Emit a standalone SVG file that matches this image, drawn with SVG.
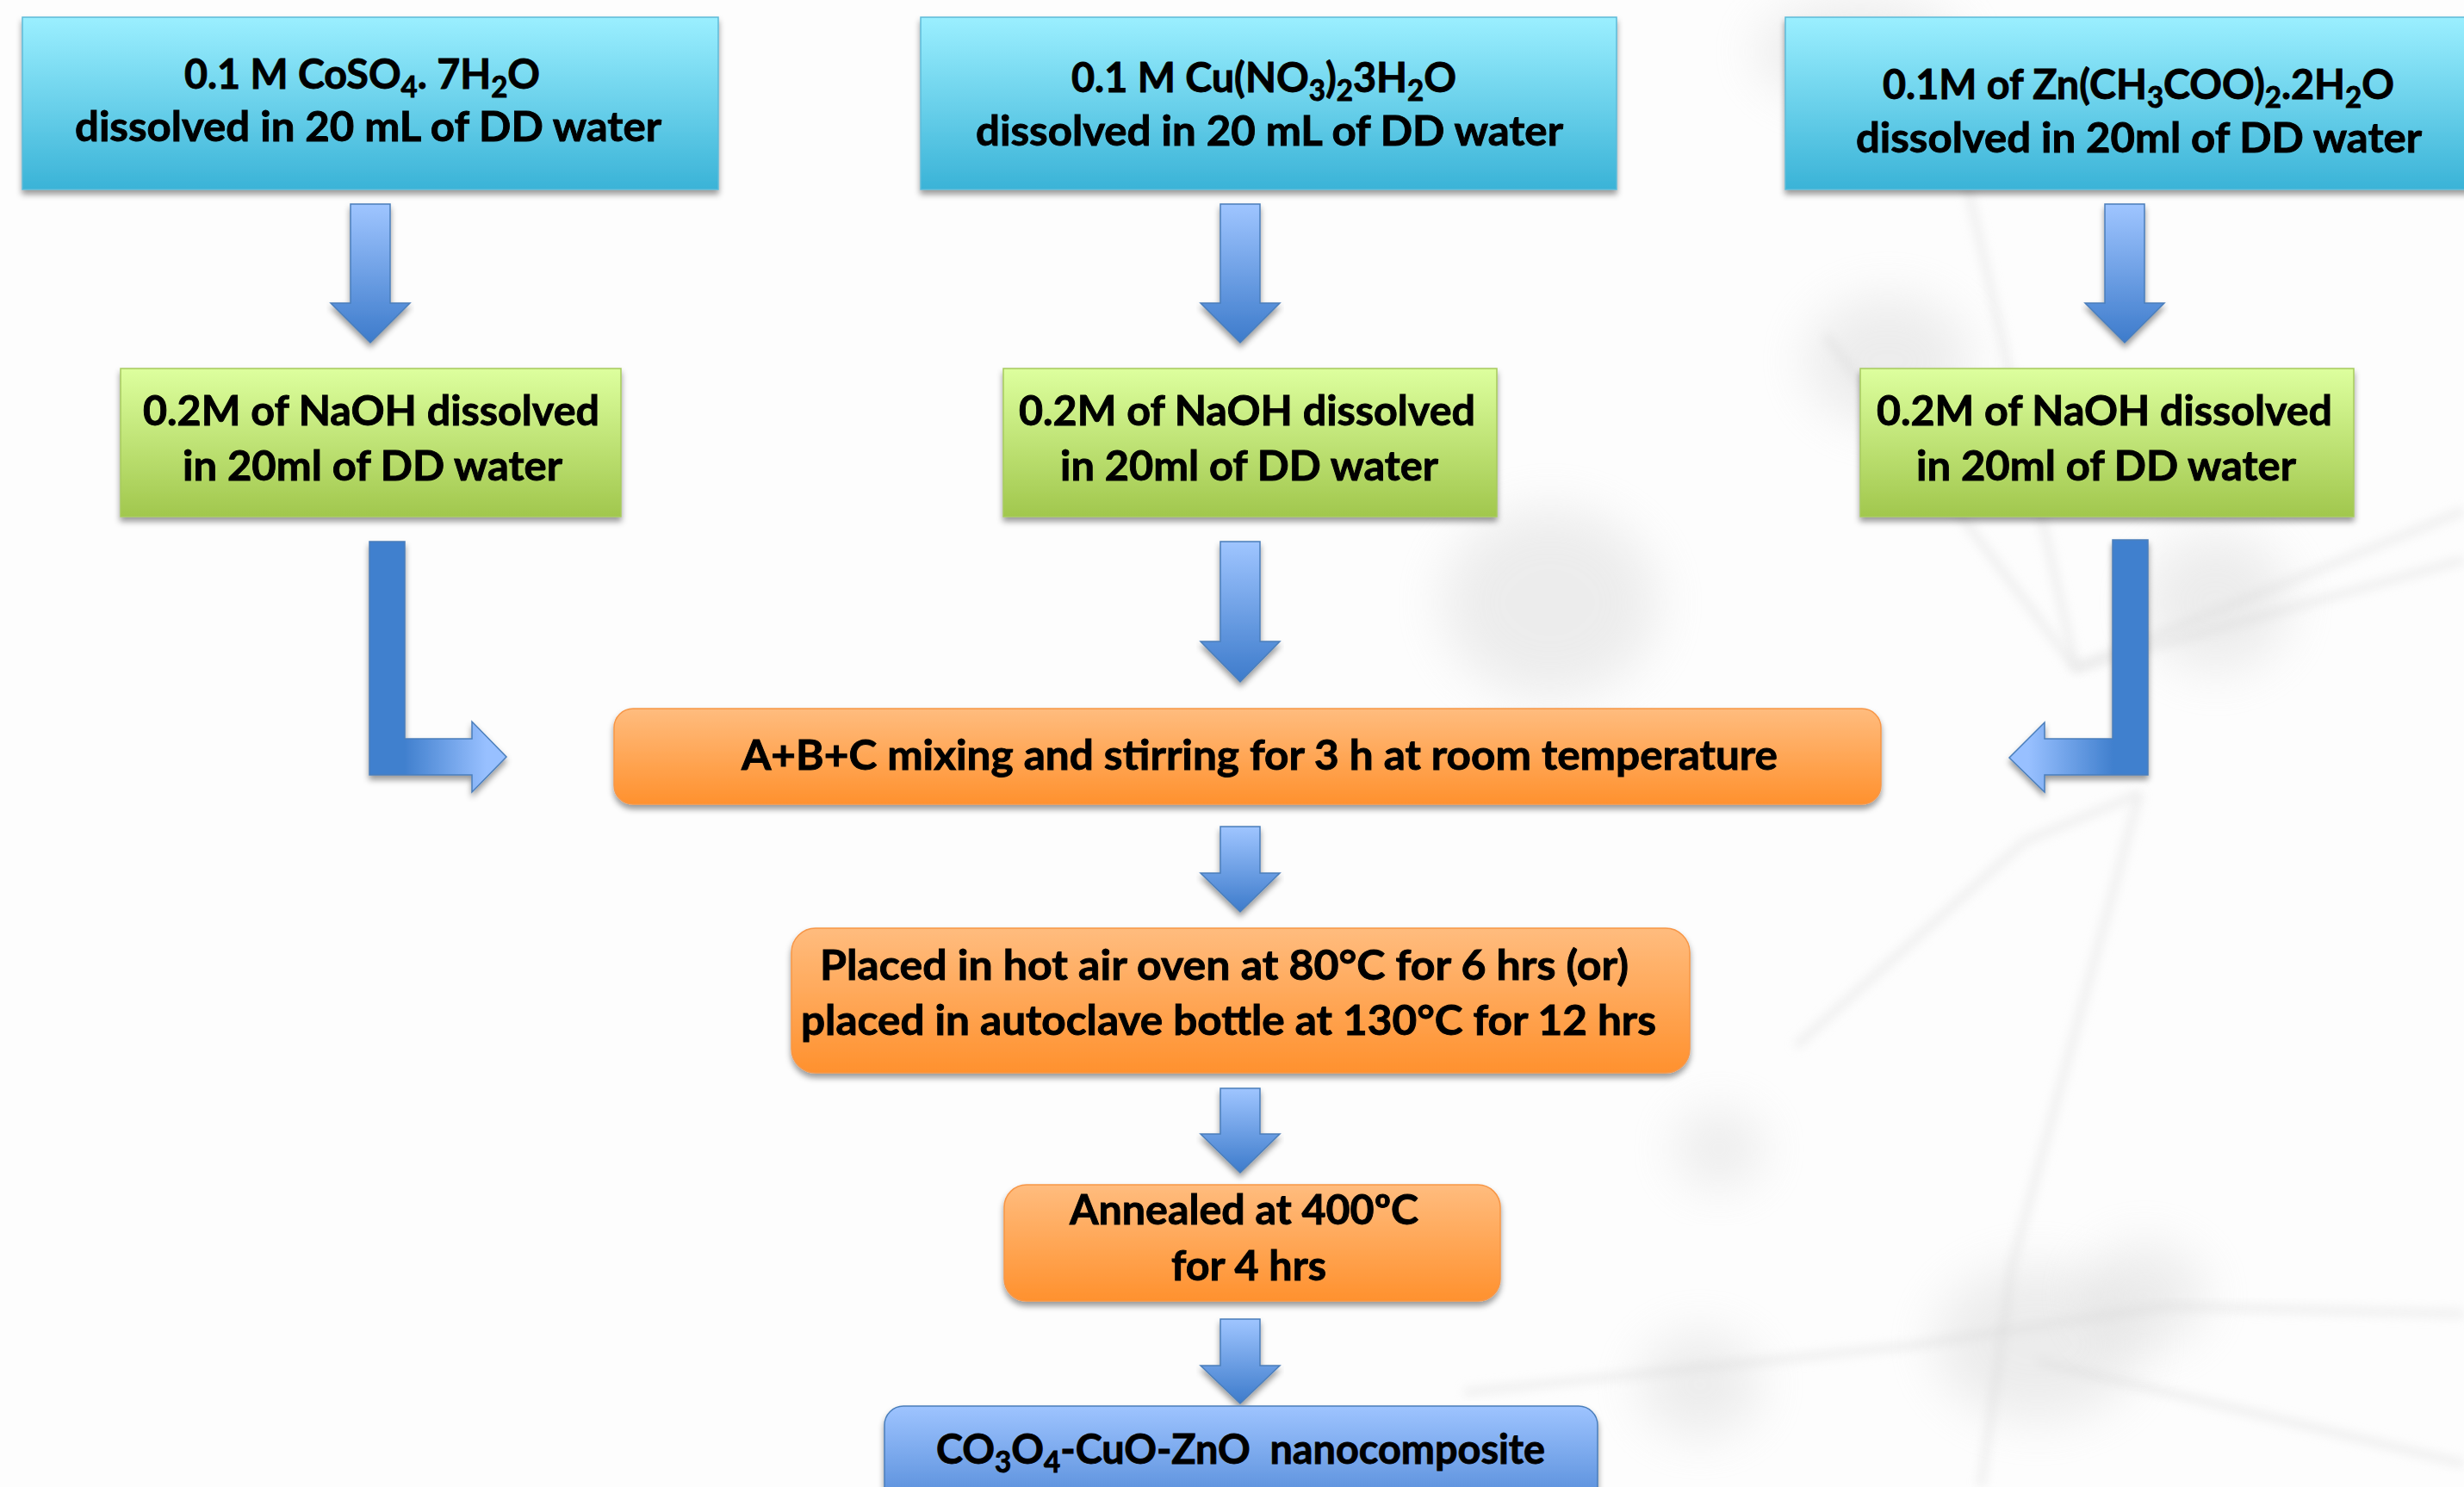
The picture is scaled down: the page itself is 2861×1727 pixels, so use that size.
<svg xmlns="http://www.w3.org/2000/svg" width="2861" height="1727" viewBox="0 0 2861 1727">
<defs>
<linearGradient id="gCyan" x1="0" y1="0" x2="0" y2="1"><stop offset="0" stop-color="#9BEFFF"/><stop offset="1" stop-color="#3AB3D7"/></linearGradient>
<linearGradient id="gGreen" x1="0" y1="0" x2="0" y2="1"><stop offset="0" stop-color="#DDFF9E"/><stop offset="1" stop-color="#A1C74D"/></linearGradient>
<linearGradient id="gOrange" x1="0" y1="0" x2="0" y2="1"><stop offset="0" stop-color="#FFBC7E"/><stop offset="1" stop-color="#FF912E"/></linearGradient>
<linearGradient id="gBlue" x1="0" y1="0" x2="0" y2="1"><stop offset="0" stop-color="#9EC4FF"/><stop offset="1" stop-color="#4B84D4"/></linearGradient>
<linearGradient id="gArrow" x1="0" y1="0" x2="0" y2="1"><stop offset="0" stop-color="#9FC5FF"/><stop offset="1" stop-color="#3D7BCB"/></linearGradient>
<linearGradient id="gLeftL" gradientUnits="userSpaceOnUse" x1="470" y1="0" x2="565" y2="0"><stop offset="0" stop-color="#4180CE"/><stop offset="1" stop-color="#98C0FF"/></linearGradient>
<linearGradient id="gRightL" gradientUnits="userSpaceOnUse" x1="2453" y1="0" x2="2355" y2="0"><stop offset="0" stop-color="#4180CE"/><stop offset="1" stop-color="#98C0FF"/></linearGradient>
<filter id="shadow" x="-5%" y="-10%" width="110%" height="130%"><feDropShadow dx="0" dy="5" stdDeviation="3.5" flood-color="#000" flood-opacity="0.4"/></filter>
<filter id="blurBig" x="-50%" y="-50%" width="200%" height="200%"><feGaussianBlur stdDeviation="28"/></filter>
<filter id="blurLine" x="-10%" y="-10%" width="120%" height="120%"><feGaussianBlur stdDeviation="6"/></filter>
<style>
.t{font-family:Lato,"Open Sans","Liberation Sans",sans-serif;font-weight:bold;font-size:48px;fill:#000;stroke:#000;stroke-width:0.9px;}
.cy{fill:url(#gCyan);stroke:#5DBAD8;stroke-width:1.5;filter:url(#shadow);}
.gr{fill:url(#gGreen);stroke:#A7CA5E;stroke-width:1.5;filter:url(#shadow);}
.or{fill:url(#gOrange);stroke:#F79646;stroke-width:1.5;filter:url(#shadow);}
.bl{fill:url(#gBlue);stroke:#4A7EBB;stroke-width:1.5;filter:url(#shadow);}
.ar{fill:url(#gArrow);stroke:#4A7EBB;stroke-width:1.5;filter:url(#shadow);}
.bg{fill:#d6d6d6;opacity:0.42;filter:url(#blurBig);}
.bgl{fill:none;stroke:#e2e2e2;stroke-width:10;opacity:0.5;filter:url(#blurLine);}
</style>
</defs>
<rect x="0" y="0" width="2861" height="1727" fill="#fdfdfd"/>
<g id="background">
<path class="bgl" d="M2281,200 L2410,776 L2861,593"/>
<path class="bgl" d="M2410,776 L2861,650"/>
<path class="bgl" d="M2120,390 L2410,776"/>
<path class="bgl" d="M2484,922 L2336,1471 L2300,1727"/>
<path class="bgl" d="M2085,1215 L2351,977 L2484,922"/>
<path class="bgl" d="M1700,1617 L2218,1563 L2514,1517 L2861,1526"/>
<path class="bgl" d="M2366,1581 L2861,1700"/>
<ellipse class="bg" cx="1800" cy="700" rx="125" ry="110"/>
<ellipse class="bg" cx="2573" cy="700" rx="85" ry="80"/>
<ellipse class="bg" cx="2192" cy="419" rx="95" ry="75"/>
<ellipse class="bg" cx="1996" cy="1334" rx="50" ry="45"/>
<ellipse class="bg" cx="2366" cy="1560" rx="120" ry="90"/>
<ellipse class="bg" cx="2490" cy="1505" rx="70" ry="60"/>
<ellipse class="bg" cx="1974" cy="1608" rx="70" ry="60"/>
<ellipse class="bg" cx="2160" cy="60" rx="120" ry="60"/>
</g>
<g id="connectors">
<path class="ar" d="M407,237 H453 V352 H476 L430,398 L384,352 H407 Z"/>
<path class="ar" d="M1417,237 H1463 V352 H1486 L1440,398 L1394,352 H1417 Z"/>
<path class="ar" d="M2444,237 H2490 V352 H2513 L2467,398 L2421,352 H2444 Z"/>
<path d="M429,629 H470 V858 H548 V838 L588,879 L548,920 V900 H429 Z" fill="url(#gLeftL)" stroke="#4A7EBB" stroke-width="1.5" filter="url(#shadow)"/>
<path class="ar" d="M1417,629 H1463 V745 H1486 L1440,792 L1394,745 H1417 Z"/>
<path d="M2494,627 H2453 V858 H2374 V839 L2333,880 L2374,920 V900 H2494 Z" fill="url(#gRightL)" stroke="#4A7EBB" stroke-width="1.5" filter="url(#shadow)"/>
<path class="ar" d="M1417,960 H1463 V1014 H1486 L1440,1059 L1394,1014 H1417 Z"/>
<path class="ar" d="M1417,1264 H1463 V1317 H1486 L1440,1362 L1394,1317 H1417 Z"/>
<path class="ar" d="M1417,1532 H1463 V1586 H1486 L1440,1630 L1394,1586 H1417 Z"/>
</g>
<g id="nodeA1">
<rect class="cy" x="26" y="20" width="808" height="200"/>
<text class="t" x="214" y="103" textLength="413" lengthAdjust="spacingAndGlyphs">0.1 M CoSO<tspan font-size="34" dy="10">4</tspan><tspan dy="-10">. 7H</tspan><tspan font-size="34" dy="10">2</tspan><tspan dy="-10">O</tspan></text>
<text class="t" x="87" y="164" textLength="681" lengthAdjust="spacingAndGlyphs">dissolved in 20 mL of DD water</text>
</g>
<g id="nodeB1">
<rect class="cy" x="1069" y="20" width="808" height="200"/>
<text class="t" x="1244" y="107" textLength="447" lengthAdjust="spacingAndGlyphs">0.1 M Cu(NO<tspan font-size="34" dy="10">3</tspan><tspan dy="-10">)</tspan><tspan font-size="34" dy="10">2</tspan><tspan dy="-10">3H</tspan><tspan font-size="34" dy="10">2</tspan><tspan dy="-10">O</tspan></text>
<text class="t" x="1133" y="169" textLength="682" lengthAdjust="spacingAndGlyphs">dissolved in 20 mL of DD water</text>
</g>
<g id="nodeC1">
<rect class="cy" x="2073" y="20" width="820" height="200"/>
<text class="t" x="2186" y="115" textLength="594" lengthAdjust="spacingAndGlyphs">0.1M of Zn(CH<tspan font-size="34" dy="10">3</tspan><tspan dy="-10">COO)</tspan><tspan font-size="34" dy="10">2</tspan><tspan dy="-10">.2H</tspan><tspan font-size="34" dy="10">2</tspan><tspan dy="-10">O</tspan></text>
<text class="t" x="2155" y="177" textLength="657" lengthAdjust="spacingAndGlyphs">dissolved in 20ml of DD water</text>
</g>
<g id="nodeA2">
<rect class="gr" x="140" y="428" width="581" height="172"/>
<text class="t" x="166" y="494" textLength="530" lengthAdjust="spacingAndGlyphs">0.2M of NaOH dissolved</text>
<text class="t" x="212" y="558" textLength="441" lengthAdjust="spacingAndGlyphs">in 20ml of DD water</text>
</g>
<g id="nodeB2">
<rect class="gr" x="1165" y="428" width="573" height="172"/>
<text class="t" x="1183" y="494" textLength="530" lengthAdjust="spacingAndGlyphs">0.2M of NaOH dissolved</text>
<text class="t" x="1231" y="558" textLength="439" lengthAdjust="spacingAndGlyphs">in 20ml of DD water</text>
</g>
<g id="nodeC2">
<rect class="gr" x="2160" y="428" width="573" height="172"/>
<text class="t" x="2179" y="494" textLength="529" lengthAdjust="spacingAndGlyphs">0.2M of NaOH dissolved</text>
<text class="t" x="2225" y="558" textLength="441" lengthAdjust="spacingAndGlyphs">in 20ml of DD water</text>
</g>
<g id="nodeMix">
<rect class="or" x="713" y="823" width="1471" height="111" rx="22"/>
<text class="t" x="861" y="894" textLength="1203" lengthAdjust="spacingAndGlyphs">A+B+C mixing and stirring for 3 h at room temperature</text>
</g>
<g id="nodeOven">
<rect class="or" x="919" y="1078" width="1043" height="168" rx="28"/>
<text class="t" x="952" y="1138" textLength="939" lengthAdjust="spacingAndGlyphs">Placed in hot air oven at 80°C for 6 hrs (or)</text>
<text class="t" x="930" y="1202" textLength="993" lengthAdjust="spacingAndGlyphs">placed in autoclave bottle at 130°C for 12 hrs</text>
</g>
<g id="nodeAnneal">
<rect class="or" x="1166" y="1376" width="576" height="135" rx="26"/>
<text class="t" x="1242" y="1422" textLength="405" lengthAdjust="spacingAndGlyphs">Annealed at 400ºC</text>
<text class="t" x="1360" y="1487" textLength="180" lengthAdjust="spacingAndGlyphs">for 4 hrs</text>
</g>
<g id="nodeProduct">
<rect class="bl" x="1027" y="1633" width="828" height="130" rx="22"/>
<text class="t" x="1087" y="1700" textLength="707" lengthAdjust="spacingAndGlyphs" style="white-space:pre">CO<tspan font-size="34" dy="10">3</tspan><tspan dy="-10">O</tspan><tspan font-size="34" dy="10">4</tspan><tspan dy="-10">-CuO-ZnO  nanocomposite</tspan></text>
</g>
</svg>
